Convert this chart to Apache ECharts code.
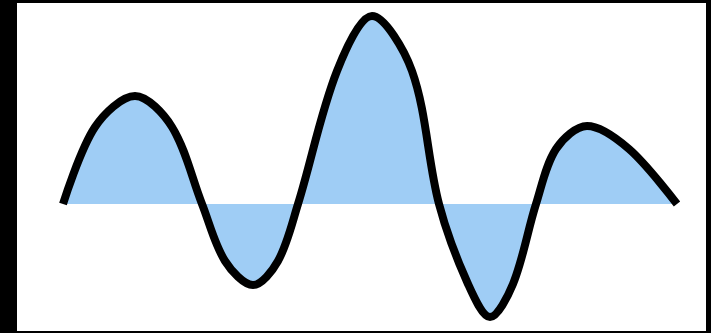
<!DOCTYPE html>
<html>
<head>
<meta charset="utf-8">
<script src="https://cdn.jsdelivr.net/npm/echarts@6/dist/echarts.min.js"></script>
<style>
  html, body { margin: 0; padding: 0; background: #000; width: 711px; height: 333px; overflow: hidden; }
  #chart { position: absolute; left: 17px; top: 3px; width: 689px; height: 328px; background: #fff; }
</style>
</head>
<body>
<div id="chart"></div>
<script>
// 读图得到的波形点 (x: 水平位置, y: 相对基线的高度)
const xs = [0, 32, 72, 109, 139, 162, 190, 215, 235, 274, 309, 349, 376, 405, 427, 450, 473, 493, 524, 566, 614];
const ys = [0, 77, 108, 77, 0, -57, -81, -57, 0, 133, 188, 133, 0, -80, -113, -80, 0, 55, 78, 55, 0];

const myChart = echarts.init(document.getElementById('chart'));
myChart.setOption({
  animation: false,
  grid: { left: 46, right: 29, top: 1, bottom: 7 },
  xAxis: { type: 'value', min: 0, max: 614, show: false },
  yAxis: { type: 'value', min: -120, max: 200, show: false },
  series: [
    {
      type: 'line',
      data: xs.map((x, i) => [x, ys[i]]),
      smooth: 0.33,
      showSymbol: false,
      lineStyle: { color: '#000', width: 8, cap: 'butt', join: 'round' },
      areaStyle: { color: '#9fcdf5', opacity: 1, origin: 0 }
    }
  ]
});
</script>
</body>
</html>
